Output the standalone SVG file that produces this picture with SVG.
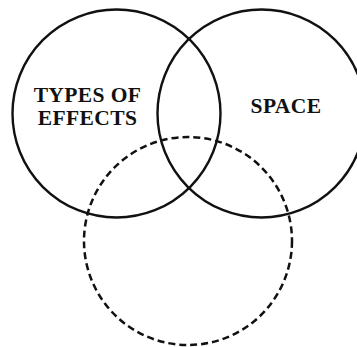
<svg xmlns="http://www.w3.org/2000/svg" width="357" height="347" viewBox="0 0 357 347">
  <style>
    .c { fill: none; stroke: #111; stroke-width: 2.4; }
    .d { fill: none; stroke: #111; stroke-width: 2.5; stroke-dasharray: 7 4; }
    .t { font-family: "Liberation Serif", "Times New Roman", serif; font-weight: bold; font-size: 21.5px; fill: #111; text-anchor: middle; letter-spacing: 0.4px; }
  </style>
  <rect width="357" height="347" fill="#fff"/>
  <g id="types-of-effects">
    <circle class="c" cx="116.5" cy="113.5" r="104"/>
    <text class="t" x="87.5" y="102">TYPES OF</text>
    <text class="t" x="87.5" y="125">EFFECTS</text>
  </g>
  <g id="space">
    <circle class="c" cx="261.5" cy="113.5" r="104"/>
    <text class="t" x="286" y="113">SPACE</text>
  </g>
  <g id="unlabeled">
    <circle class="d" cx="188" cy="241" r="104"/>
  </g>
  <g id="connectors"></g>
</svg>
